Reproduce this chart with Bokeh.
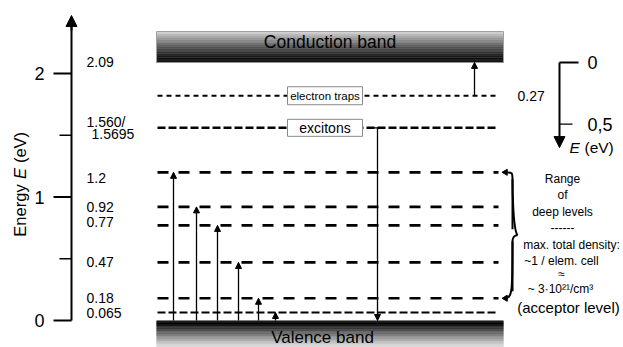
import numpy as np
from bokeh.plotting import figure
from bokeh.models import Range1d, Arrow, NormalHead, ColumnDataSource
from bokeh.embed import file_html
from bokeh.resources import INLINE
from bokeh.core.properties import value

W, H = 623, 347
E0_PX, PX_PER_EV = 320.0, 123.5
FONT = value("Liberation Sans")


def ey(px):
    """Screen row -> energy (eV) for placing annotations."""
    return (E0_PX - px) / PX_PER_EV


# ---- level scheme (eV, measured from the valence band edge) ----
band_gap = 2.09
trap_depth = 0.27                      # below conduction band
exciton_level = 1.56
deep_levels = [1.2, 0.92, 0.77, 0.47, 0.18]
acceptor_level = 0.065
up_transitions = [1.2, 0.92, 0.77, 0.47, 0.18, 0.065]

axis_major = [0, 1, 2]
axis_minor = [0.5, 1.5]
depth_ticks = [0, 0.5]
depth_tick_labels = ["0", "0,5"]

level_texts = ["2.09", "1.560/", "1.5695", "1.2", "0.92", "0.77", "0.47", "0.18", "0.065"]
level_text_E = [2.09, 1.608, 1.512, 1.15, 0.92, 0.80, 0.47, 0.18, 0.06]

deep_note = ["Range", "of", "deep levels", "------", "max. total density:",
             "~1 / elem. cell", "\u2248", "~ 3\u00b710\u00b2\u00b9/cm\u00b3"]

# ---- layout (screen x in px) ----
X_AX = 71
X_L, X_R = 157, 498          # level lines
XB_L, XB_R = 156, 503        # bands
up_x = [173, 196, 217, 238, 258, 275]
x_exc_arrow = 377
x_trap_arrow = 474

p = figure(width=W, height=H, x_range=Range1d(0, W), y_range=Range1d(ey(H), ey(0)),
           output_backend="svg", toolbar_location=None, min_border=0)
p.axis.visible = False
p.grid.visible = False
p.outline_line_color = None
p.background_fill_color = "white"


def grays(levels):
    return ["#%02x%02x%02x" % (int(v), int(v), int(v)) for v in levels]


def shaded_band(e_top, e_bot, levels):
    """Stack of thin strips; each overlaps the next one to hide seams."""
    m = len(levels)
    edges = e_top + (e_bot - e_top) * np.linspace(0, 1, m + 1)
    overlap = 0.6 * (e_top - e_bot) / m
    cols = grays(levels)
    p.quad(left=XB_L, right=XB_R, top=edges[:-1], bottom=edges[1:] - overlap,
           fill_color=cols, line_color=None)


n = 48
tc = (np.arange(n) + 0.5) / n

# ---- conduction band: light on top, black at the band edge ----
cb_top = ey(31)
shaded_band(cb_top, band_gap, 215 * (1 - tc) ** 1.3)
p.quad(left=XB_L, right=XB_R, top=cb_top, bottom=band_gap, fill_color=None,
       line_color="#a0a0a0", line_width=1)

# ---- valence band: black at the band edge, lighter further down ----
vb_bot = ey(350)
shaded_band(0, vb_bot, 215 * np.clip((tc - 0.12) / 0.7, 0, 1) ** 0.85)

p.text(x=[(XB_L + XB_R) / 2], y=[ey(41)], text=["Conduction band"],
       text_font=FONT, text_font_size="17.5px", text_align="center",
       text_baseline="middle", text_color="black")
p.text(x=[322], y=[ey(337)], text=["Valence band"], text_font=FONT,
       text_font_size="17px", text_align="center", text_baseline="middle",
       text_color="black")

# ---- levels ----
trap_E = band_gap - trap_depth
p.segment(x0=X_L, x1=X_R, y0=trap_E, y1=trap_E, line_color="black",
          line_width=2, line_dash="5 4")
p.segment(x0=X_L, x1=X_R, y0=exciton_level, y1=exciton_level, line_color="black",
          line_width=2.5, line_dash="8 3")
p.segment(x0=[X_L] * len(deep_levels), x1=[X_R] * len(deep_levels),
          y0=deep_levels, y1=deep_levels, line_color="black", line_width=2.7,
          line_dash="11 10")
p.segment(x0=X_L, x1=X_R, y0=acceptor_level, y1=acceptor_level, line_color="black",
          line_width=2, line_dash="8 3")


# ---- transitions ----
def arrows(xs, y0s, y1s, size=6, width=1.3):
    src = ColumnDataSource(dict(x0=xs, x1=xs, y0=y0s, y1=y1s))
    p.add_layout(Arrow(end=NormalHead(size=size, fill_color="black", line_color="black"),
                       x_start="x0", y_start="y0", x_end="x1", y_end="y1",
                       line_color="black", line_width=width, source=src))


arrows(up_x, [0] * len(up_x), up_transitions)
arrows([x_exc_arrow], [exciton_level], [0])
p.segment(x0=x_exc_arrow - 4, x1=x_exc_arrow + 4, y0=exciton_level, y1=exciton_level,
          line_color="black", line_width=1.3)
arrows([x_trap_arrow], [trap_E], [band_gap])

# ---- labelled boxes on the upper levels ----
box_w = 75
p.rect(x=[324.5, 324.5], y=[trap_E, exciton_level], width=box_w,
       height=[18 / PX_PER_EV, 17 / PX_PER_EV], fill_color="white",
       line_color="#8a8a8a", line_width=1)
p.text(x=[324.5], y=[trap_E], text=["electron traps"], text_font=FONT,
       text_font_size="11.5px", text_align="center", text_baseline="middle")
p.text(x=[324.5], y=[exciton_level], text=["excitons"], text_font=FONT,
       text_font_size="14px", text_align="center", text_baseline="middle")

# ---- left energy axis ----
p.segment(x0=X_AX, x1=X_AX, y0=0, y1=ey(24), line_color="black", line_width=2)
p.add_layout(Arrow(end=NormalHead(size=11, fill_color="black", line_color="black"),
                   x_start=X_AX, y_start=ey(30), x_end=X_AX, y_end=ey(15),
                   line_color="black", line_width=2))
p.segment(x0=[53] * 3, x1=[X_AX] * 3, y0=axis_major, y1=axis_major,
          line_color="black", line_width=2)
p.segment(x0=[59] * 2, x1=[X_AX] * 2, y0=axis_minor, y1=axis_minor,
          line_color="black", line_width=1.3)
p.text(x=[39] * 3, y=axis_major, text=[str(v) for v in axis_major], text_font=FONT,
       text_font_size="18px", text_align="center", text_baseline="middle")

# rotated axis title, written in three pieces so the symbol can be italic
p.text(x=[19], y=[ey(210)], text=["Energy"], angle=np.pi / 2, text_font=FONT,
       text_font_size="16.5px", text_align="center", text_baseline="middle")
p.text(x=[19], y=[ey(173)], text=["E"], angle=np.pi / 2, text_font=FONT,
       text_font_size="16.5px", text_font_style="italic", text_align="center",
       text_baseline="middle")
p.text(x=[19], y=[ey(147)], text=["(eV)"], angle=np.pi / 2, text_font=FONT,
       text_font_size="16.5px", text_align="center", text_baseline="middle")

lx = [86] * len(level_texts)
lx[2] = 91
p.text(x=lx, y=level_text_E, text=level_texts, text_font=FONT,
       text_font_size="14px", text_align="left", text_baseline="middle")

# ---- depth scale below the conduction band ----
X_D = 559
d_E = [band_gap - d for d in depth_ticks]
p.segment(x0=X_D, x1=X_D, y0=band_gap, y1=band_gap - 0.62, line_color="black",
          line_width=2)
p.add_layout(Arrow(end=NormalHead(size=11, fill_color="black", line_color="black"),
                   x_start=X_D, y_start=band_gap - 0.6, x_end=X_D, y_end=band_gap - 0.69,
                   line_color="black", line_width=2))
p.segment(x0=[X_D, X_D], x1=[578, 572], y0=d_E, y1=d_E, line_color="black",
          line_width=[2, 1.2])
p.text(x=[592, 587], y=d_E, text=depth_tick_labels, text_font=FONT,
       text_font_size="18px", text_align=["center", "left"], text_baseline="middle")
p.text(x=[569], y=[ey(147)], text=["E"], text_font=FONT, text_font_size="15.5px",
       text_font_style="italic", text_align="left", text_baseline="middle")
p.text(x=[584], y=[ey(147)], text=["(eV)"], text_font=FONT, text_font_size="15.5px",
       text_align="left", text_baseline="middle")
p.text(x=[517], y=[trap_E], text=[f"{trap_depth:.2f}"], text_font=FONT,
       text_font_size="14px", text_align="left", text_baseline="middle")

# ---- brace spanning the deep levels ----
top, bot = deep_levels[0], deep_levels[-1]
mid = (top + bot) / 2
k = 1 / PX_PER_EV
xb = 512
p.bezier(x0=[504, xb, xb + 5, xb], y0=[top, top - 7 * k, mid, mid - 6 * k],
         x1=[xb, xb + 5, xb, 504], y1=[top - 7 * k, mid, mid - 6 * k, bot],
         cx0=[xb, xb, xb, xb], cy0=[top, top - 7 * k, mid, bot + 7 * k],
         cx1=[xb, xb, xb, xb], cy1=[top, mid + 6 * k, mid - 6 * k, bot],
         line_color="black", line_width=2)
p.segment(x0=xb, x1=xb, y0=top - 7 * k, y1=mid + 6 * k, line_color="black", line_width=2)
p.segment(x0=xb, x1=xb, y0=mid - 6 * k, y1=bot + 7 * k, line_color="black", line_width=2)
p.scatter(x=[505, 505], y=[top, bot], marker="triangle", angle=[np.pi / 2, np.pi / 2],
          size=6, fill_color="black", line_color="black")

note_y = [ey(v) for v in (178, 194, 211, 227, 244, 260, 273, 288)]
note_x = [562, 562, 562, 562, 571, 561, 561, 560]
p.text(x=note_x, y=note_y, text=deep_note, text_font=FONT, text_font_size="12px",
       text_align="center", text_baseline="middle")
p.text(x=[568], y=[ey(307)], text=["(acceptor level)"], text_font=FONT,
       text_font_size="15px", text_align="center", text_baseline="middle")

open("out.html", "w").write(file_html(p, INLINE))
